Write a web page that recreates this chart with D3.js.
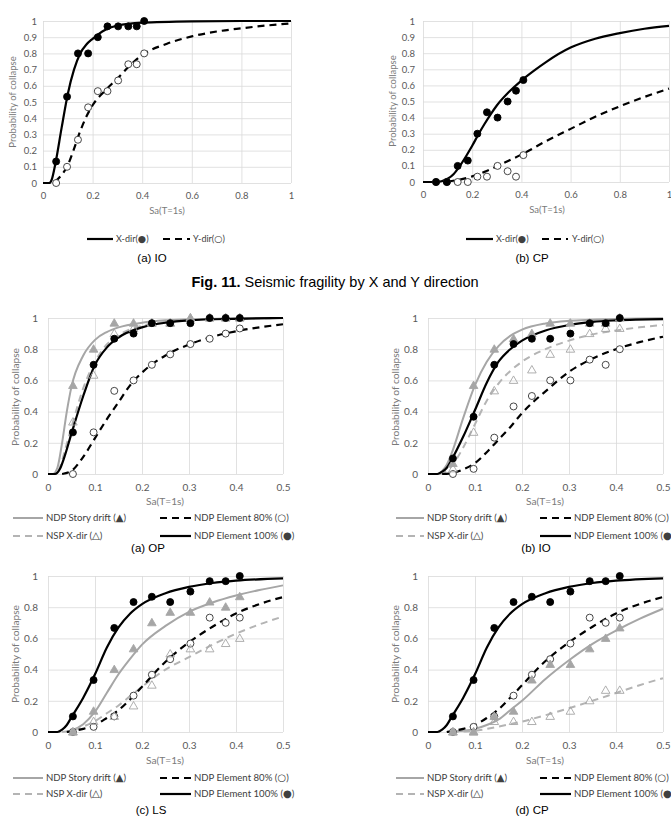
<!DOCTYPE html>
<html>
<head>
<meta charset="utf-8">
<style>
body { margin: 0; background: #fff; }
svg { display: block; }
.tick text { font-family: Lato, "Open Sans", sans-serif; fill: #595959; }
.axis-title { font-family: Lato, "Open Sans", sans-serif; fill: #7a7a7a; }
.legend text { font-family: Lato, "Open Sans", sans-serif; fill: #404040; }
.legend .glyph { font-family: "DejaVu Sans", sans-serif; fill: #404040; }
.caption { font-family: "Liberation Sans", Arial, sans-serif; fill: #000; }
</style>
</head>
<body>
<div id="fig"></div>

<script src="https://cdnjs.cloudflare.com/ajax/libs/d3/7.8.5/d3.min.js"></script>
<script>
// ---- data ----
const saPoints = [0.053, 0.097, 0.141, 0.182, 0.221, 0.26, 0.303, 0.344, 0.378, 0.408];

const topXTicks = [0, 0.2, 0.4, 0.6, 0.8, 1];
const topYTicks = [0, 0.1, 0.2, 0.3, 0.4, 0.5, 0.6, 0.7, 0.8, 0.9, 1];
const lowXTicks = [0, 0.1, 0.2, 0.3, 0.4, 0.5];
const lowYTicks = [0, 0.2, 0.4, 0.6, 0.8, 1];

// Fig. 11 (a) IO
const ioXdir = [0.133, 0.533, 0.8, 0.8, 0.9, 0.967, 0.967, 0.967, 0.967, 1];
const ioYdir = [0, 0.1, 0.267, 0.467, 0.567, 0.567, 0.633, 0.733, 0.733, 0.8];
const ioXdirCurve = [[0,0],[0.025,0],[0.035,0.02],[0.05,0.12],[0.075,0.34],[0.1,0.55],[0.125,0.7],[0.15,0.8],[0.175,0.855],[0.2,0.89],[0.25,0.945],[0.3,0.972],[0.4,0.99],[0.6,0.998],[0.8,1],[1,1]];
const ioYdirCurve = [[0.05,0.01],[0.075,0.05],[0.1,0.11],[0.125,0.21],[0.15,0.32],[0.175,0.41],[0.2,0.48],[0.25,0.57],[0.3,0.645],[0.35,0.725],[0.4,0.79],[0.5,0.86],[0.6,0.905],[0.7,0.935],[0.8,0.955],[0.9,0.972],[1,0.985]];

// Fig. 11 (b) CP
const cpXdir = [0, 0, 0.1, 0.133, 0.3, 0.433, 0.4, 0.5, 0.567, 0.633];
const cpYdir = [0, 0, 0, 0, 0.033, 0.033, 0.1, 0.067, 0.033, 0.167];
const cpXdirCurve = [[0,0],[0.05,0],[0.075,0.005],[0.1,0.02],[0.125,0.05],[0.15,0.1],[0.175,0.16],[0.2,0.225],[0.225,0.295],[0.25,0.36],[0.275,0.42],[0.3,0.475],[0.35,0.56],[0.4,0.63],[0.45,0.69],[0.5,0.745],[0.6,0.835],[0.7,0.89],[0.8,0.925],[0.9,0.952],[1,0.97]];
const cpYdirCurve = [[0.1,0.004],[0.15,0.015],[0.2,0.035],[0.25,0.063],[0.3,0.097],[0.35,0.134],[0.4,0.17],[0.5,0.254],[0.6,0.33],[0.7,0.405],[0.8,0.47],[0.9,0.528],[1,0.58]];

// Fig. 12 (a) OP
const opStory = [0.567, 0.8, 0.967, 0.967, 0.967, 0.967, 1, 1, 1, 1];
const opNsp = [0.333, 0.633, 0.9, 0.933, 0.967, 0.967, 1, 1, 1, 1];
const opEl80 = [0, 0.267, 0.533, 0.6, 0.7, 0.767, 0.833, 0.867, 0.9, 0.933];
const opEl100 = [0.267, 0.7, 0.867, 0.9, 0.967, 0.967, 0.967, 1, 1, 1];
const opStoryCurve = [[0,0],[0.01,0],[0.02,0.04],[0.03,0.2],[0.04,0.4],[0.05,0.56],[0.075,0.76],[0.1,0.86],[0.125,0.91],[0.15,0.94],[0.2,0.97],[0.25,0.985],[0.3,0.992],[0.4,0.998],[0.5,1]];
const opNspCurve = [[0,0],[0.015,0],[0.025,0.04],[0.035,0.14],[0.05,0.3],[0.075,0.55],[0.1,0.72],[0.125,0.83],[0.15,0.89],[0.2,0.95],[0.25,0.975],[0.3,0.988],[0.4,0.996],[0.5,1]];
const opEl80Curve = [[0.03,0],[0.05,0.02],[0.075,0.11],[0.1,0.23],[0.125,0.35],[0.15,0.46],[0.175,0.57],[0.2,0.65],[0.25,0.76],[0.3,0.83],[0.35,0.88],[0.4,0.915],[0.45,0.94],[0.5,0.96]];
const opEl100Curve = [[0,0],[0.015,0],[0.025,0.03],[0.035,0.11],[0.05,0.26],[0.075,0.5],[0.1,0.7],[0.125,0.81],[0.15,0.875],[0.2,0.94],[0.25,0.97],[0.3,0.985],[0.4,0.995],[0.5,1]];

// Fig. 12 (b) IO
const ioStory = [0.067, 0.567, 0.8, 0.867, 0.9, 0.967, 0.967, 0.967, 0.967, 1];
const ioNsp = [0.033, 0.267, 0.533, 0.6, 0.667, 0.767, 0.8, 0.9, 0.933, 0.933];
const ioEl80 = [0, 0.033, 0.233, 0.433, 0.5, 0.6, 0.6, 0.733, 0.7, 0.8];
const ioEl100 = [0.1, 0.367, 0.7, 0.833, 0.867, 0.867, 0.9, 0.967, 0.967, 1];
const ioStoryCurve = [[0,0],[0.02,0],[0.03,0.02],[0.04,0.06],[0.05,0.13],[0.075,0.36],[0.1,0.57],[0.125,0.72],[0.15,0.82],[0.175,0.885],[0.2,0.925],[0.25,0.965],[0.3,0.982],[0.4,0.994],[0.5,0.998]];
const ioNspCurve = [[0.025,0],[0.04,0.02],[0.05,0.05],[0.075,0.17],[0.1,0.32],[0.125,0.47],[0.15,0.58],[0.2,0.72],[0.25,0.8],[0.3,0.855],[0.35,0.895],[0.4,0.92],[0.45,0.94],[0.5,0.955]];
const ioEl80Curve = [[0.03,0],[0.05,0.005],[0.075,0.03],[0.1,0.07],[0.125,0.14],[0.15,0.22],[0.175,0.3],[0.2,0.39],[0.225,0.465],[0.25,0.53],[0.3,0.655],[0.35,0.74],[0.4,0.8],[0.45,0.845],[0.5,0.88]];
const ioEl100Curve = [[0,0],[0.02,0],[0.03,0.015],[0.04,0.04],[0.05,0.09],[0.075,0.24],[0.1,0.41],[0.125,0.585],[0.15,0.72],[0.175,0.8],[0.2,0.855],[0.25,0.92],[0.3,0.955],[0.35,0.975],[0.4,0.985],[0.5,0.993]];

// Fig. 12 (c) LS
const lsStory = [0, 0.133, 0.4, 0.533, 0.7, 0.767, 0.767, 0.833, 0.8, 0.867];
const lsNsp = [0, 0.067, 0.1, 0.167, 0.3, 0.5, 0.533, 0.533, 0.567, 0.6];
const lsEl80 = [0, 0.033, 0.1, 0.233, 0.367, 0.467, 0.567, 0.733, 0.7, 0.733];
const lsEl100 = [0.1, 0.333, 0.667, 0.833, 0.867, 0.833, 0.9, 0.967, 0.967, 1];
const lsStoryCurve = [[0.04,0],[0.05,0.01],[0.075,0.05],[0.1,0.13],[0.125,0.25],[0.15,0.37],[0.175,0.47],[0.2,0.56],[0.25,0.68],[0.3,0.77],[0.35,0.83],[0.4,0.875],[0.45,0.91],[0.5,0.94]];
const lsNspCurve = [[0.03,0],[0.05,0.01],[0.075,0.035],[0.1,0.07],[0.125,0.12],[0.15,0.17],[0.175,0.23],[0.2,0.29],[0.25,0.4],[0.3,0.48],[0.35,0.56],[0.4,0.63],[0.45,0.69],[0.5,0.74]];
const lsEl80Curve = [[0.04,0],[0.05,0.005],[0.075,0.02],[0.1,0.045],[0.125,0.09],[0.15,0.14],[0.175,0.21],[0.2,0.29],[0.25,0.45],[0.3,0.575],[0.35,0.675],[0.4,0.76],[0.45,0.82],[0.5,0.865]];
const lsEl100Curve = [[0,0],[0.02,0],[0.03,0.015],[0.04,0.045],[0.05,0.095],[0.075,0.22],[0.1,0.37],[0.125,0.54],[0.15,0.67],[0.175,0.76],[0.2,0.82],[0.25,0.89],[0.3,0.93],[0.35,0.955],[0.4,0.97],[0.5,0.985]];

// Fig. 12 (d) CP
const cpStory = [0, 0, 0.1, 0.133, 0.333, 0.433, 0.433, 0.533, 0.6, 0.667];
const cpNsp = [0, 0, 0.067, 0.067, 0.067, 0.1, 0.133, 0.2, 0.267, 0.267];
const cpEl80 = [0, 0.033, 0.1, 0.233, 0.367, 0.467, 0.567, 0.733, 0.7, 0.733];
const cpEl100 = [0.1, 0.333, 0.667, 0.833, 0.867, 0.833, 0.9, 0.967, 0.967, 1];
const cpStoryCurve = [[0.04,0],[0.05,0.003],[0.075,0.008],[0.1,0.02],[0.125,0.045],[0.15,0.08],[0.175,0.14],[0.2,0.2],[0.25,0.34],[0.3,0.46],[0.35,0.565],[0.4,0.65],[0.45,0.725],[0.5,0.79]];
const cpNspCurve = [[0.05,0],[0.075,0.003],[0.1,0.008],[0.125,0.02],[0.15,0.035],[0.175,0.05],[0.2,0.067],[0.25,0.108],[0.3,0.152],[0.35,0.2],[0.4,0.25],[0.45,0.3],[0.5,0.345]];
const cpEl80Curve = [[0.04,0],[0.05,0.005],[0.075,0.02],[0.1,0.045],[0.125,0.09],[0.15,0.145],[0.175,0.22],[0.2,0.3],[0.25,0.455],[0.3,0.575],[0.35,0.675],[0.4,0.76],[0.45,0.82],[0.5,0.865]];
const cpEl100Curve = [[0,0],[0.02,0],[0.03,0.015],[0.04,0.045],[0.05,0.095],[0.075,0.22],[0.1,0.37],[0.125,0.54],[0.15,0.67],[0.175,0.76],[0.2,0.82],[0.25,0.89],[0.3,0.93],[0.35,0.955],[0.4,0.97],[0.5,0.985]];

const lowLabels = ["NDP Story drift (\u25B2)", "NSP X-dir (\u25B3)", "NDP Element 80% (\u25CB)", "NDP Element 100% (\u25CF)"];
const topLabels = ["X-dir(\u25CF)", "Y-dir(\u25CB)"];

// ---- styles ----
const GRAY = "#a6a6a6";
const lineStyle = {
    story: { stroke: GRAY, dash: null, width: 2 },
    nsp:   { stroke: "#b4b4b4", dash: "7,5", width: 2 },
    el80:  { stroke: "#000", dash: "7,5", width: 2.2 },
    el100: { stroke: "#000", dash: null, width: 2.2 }
};
const markerStyle = {
    story: { shape: "tri", fill: GRAY, stroke: GRAY },
    nsp:   { shape: "tri", fill: "none", stroke: GRAY },
    el80:  { shape: "circle", fill: "#fff", stroke: "#333" },
    el100: { shape: "circle", fill: "#000", stroke: "#000" }
};

const svg = d3.select("#fig").append("svg")
    .attr("width", 671)
    .attr("height", 821);

const line = d3.line().curve(d3.curveMonotoneX);

function drawPanel(p) {
    const x = d3.scaleLinear().domain([0, p.xMax]).range([p.left, p.right]);
    const y = d3.scaleLinear().domain([0, 1]).range([p.bottom, p.top]);
    const g = svg.append("g");

    const xa = g.append("g")
        .attr("transform", "translate(0," + p.bottom + ")")
        .call(d3.axisBottom(x).tickValues(p.xTicks).tickSize(-(p.bottom - p.top))
              .tickPadding(p.xPad).tickFormat(d3.format("~g")));
    const ya = g.append("g")
        .attr("transform", "translate(" + p.left + ",0)")
        .call(d3.axisLeft(y).tickValues(p.yTicks).tickSize(-(p.right - p.left))
              .tickPadding(p.yPad).tickFormat(d3.format("~g")));
    [xa, ya].forEach(function(a) {
        a.select(".domain").remove();
        a.selectAll(".tick line").attr("stroke", "#d9d9d9").attr("stroke-width", 0.8);
        a.selectAll(".tick text").style("font-size", p.tickFont + "px");
    });

    // axis titles
    g.append("text").attr("class", "axis-title")
        .attr("x", p.xTitle[0]).attr("y", p.xTitle[1])
        .attr("text-anchor", "middle").style("font-size", p.titleFont + "px")
        .text("Sa(T=1s)");
    g.append("text").attr("class", "axis-title")
        .attr("transform", "translate(" + p.yTitle[0] + "," + p.yTitle[1] + ") rotate(-90)")
        .attr("text-anchor", "middle").attr("dy", "0.35em").style("font-size", p.titleFont + "px")
        .text("Probability of collapse");

    // curves
    p.series.forEach(function(s) {
        const st = lineStyle[s.kind];
        g.append("path")
            .datum(s.curve)
            .attr("d", line.x(function(d) { return x(d[0]); }).y(function(d) { return y(d[1]); }))
            .attr("fill", "none")
            .attr("stroke", st.stroke)
            .attr("stroke-width", st.width)
            .attr("stroke-dasharray", st.dash);
    });

    // markers
    const tri = d3.symbol().type(d3.symbolTriangle).size(32);
    p.markerOrder.forEach(function(i) {
        const s = p.series[i];
        const ms = markerStyle[s.kind];
        const pts = saPoints.map(function(v, k) { return [v, s.values[k]]; });
        if (ms.shape === "circle") {
            g.selectAll(null).data(pts).enter().append("circle")
                .attr("cx", function(d) { return x(d[0]); })
                .attr("cy", function(d) { return y(d[1]); })
                .attr("r", 3.5)
                .attr("fill", ms.fill)
                .attr("stroke", ms.stroke)
                .attr("stroke-width", 0.9);
        } else {
            g.selectAll(null).data(pts).enter().append("path")
                .attr("d", tri)
                .attr("transform", function(d) { return "translate(" + x(d[0]) + "," + (y(d[1]) + 0.5) + ")"; })
                .attr("fill", ms.fill)
                .attr("stroke", ms.stroke)
                .attr("stroke-width", 0.9);
        }
    });

    // legend
    const lg = g.append("g").attr("class", "legend");
    p.legend.forEach(function(it) {
        const st = lineStyle[it.kind];
        lg.append("line")
            .attr("x1", it.x1).attr("x2", it.x2).attr("y1", it.y).attr("y2", it.y)
            .attr("stroke", st.stroke).attr("stroke-width", st.width)
            .attr("stroke-dasharray", st.dash);
        const t = lg.append("text")
            .attr("x", it.tx).attr("y", it.y).attr("dy", "0.35em")
            .style("font-size", p.legendFont + "px");
        const n = it.label.length;
        t.append("tspan").text(it.label.slice(0, n - 2));
        t.append("tspan").attr("class", "glyph").style("font-size", (p.legendFont + 0.5) + "px")
            .text(it.label.slice(n - 2, n - 1));
        t.append("tspan").text(")");
    });

    // caption
    svg.append("text").attr("class", "caption")
        .attr("x", p.caption[0]).attr("y", p.caption[1])
        .attr("text-anchor", "middle").style("font-size", "11.5px")
        .text(p.caption[2]);
}

function topLegend(a, b, t1, c, d, t2, yy) {
    return [
        { kind: "el100", x1: a, x2: b, tx: t1, y: yy, label: topLabels[0] },
        { kind: "el80",  x1: c, x2: d, tx: t2, y: yy, label: topLabels[1] }
    ];
}
function lowLegend(c1a, c1b, c1t, c2a, c2b, c2t, r1, r2) {
    return [
        { kind: "story", x1: c1a, x2: c1b, tx: c1t, y: r1, label: lowLabels[0] },
        { kind: "el80",  x1: c2a, x2: c2b, tx: c2t, y: r1, label: lowLabels[2] },
        { kind: "nsp",   x1: c1a, x2: c1b, tx: c1t, y: r2, label: lowLabels[1] },
        { kind: "el100", x1: c2a, x2: c2b, tx: c2t, y: r2, label: lowLabels[3] }
    ];
}
function lowSeries(story, storyC, nsp, nspC, el80, el80C, el100, el100C) {
    return [
        { kind: "story", values: story, curve: storyC },
        { kind: "nsp",   values: nsp,   curve: nspC },
        { kind: "el80",  values: el80,  curve: el80C },
        { kind: "el100", values: el100, curve: el100C }
    ];
}

const topCommon = { xMax: 1, xTicks: topXTicks, yTicks: topYTicks, xPad: 9, tickFont: 9.5, titleFont: 9.5, legendFont: 9 };
const lowCommon = { xMax: 0.5, xTicks: lowXTicks, yTicks: lowYTicks, xPad: 10, yPad: 10, tickFont: 10, titleFont: 10.2, legendFont: 9.6, markerOrder: [2, 1, 0, 3] };

const panels = [
    Object.assign({}, topCommon, {
        left: 43, right: 291, top: 21, bottom: 183, yPad: 6,
        xTitle: [167, 214], yTitle: [13, 102],
        series: [{ kind: "el100", values: ioXdir, curve: ioXdirCurve }, { kind: "el80", values: ioYdir, curve: ioYdirCurve }],
        markerOrder: [1, 0],
        legend: topLegend(87, 113, 116, 163, 190, 193, 239),
        caption: [152, 262, "(a) IO"]
    }),
    Object.assign({}, topCommon, {
        left: 423, right: 669, top: 21, bottom: 182, yPad: 8,
        xTitle: [547, 213], yTitle: [393, 101],
        series: [{ kind: "el100", values: cpXdir, curve: cpXdirCurve }, { kind: "el80", values: cpYdir, curve: cpYdirCurve }],
        markerOrder: [1, 0],
        legend: topLegend(466, 493, 496, 542, 568, 572, 239),
        caption: [532, 262, "(b) CP"]
    }),
    Object.assign({}, lowCommon, {
        left: 48, right: 283, top: 318, bottom: 474,
        xTitle: [165, 505], yTitle: [15, 397],
        series: lowSeries(opStory, opStoryCurve, opNsp, opNspCurve, opEl80, opEl80Curve, opEl100, opEl100Curve),
        legend: lowLegend(13, 43, 46, 160, 191, 194, 518, 536),
        caption: [148, 552, "(a) OP"]
    }),
    Object.assign({}, lowCommon, {
        left: 428, right: 663, top: 318, bottom: 474,
        xTitle: [545, 505], yTitle: [395, 397],
        series: lowSeries(ioStory, ioStoryCurve, ioNsp, ioNspCurve, ioEl80, ioEl80Curve, ioEl100, ioEl100Curve),
        legend: lowLegend(396, 424, 427, 540, 571, 574, 518, 536),
        caption: [536, 552, "(b) IO"]
    }),
    Object.assign({}, lowCommon, {
        left: 48, right: 283, top: 576, bottom: 732,
        xTitle: [165, 764], yTitle: [15, 654],
        series: lowSeries(lsStory, lsStoryCurve, lsNsp, lsNspCurve, lsEl80, lsEl80Curve, lsEl100, lsEl100Curve),
        legend: lowLegend(13, 43, 46, 160, 191, 194, 778, 794),
        caption: [151, 814, "(c) LS"]
    }),
    Object.assign({}, lowCommon, {
        left: 428, right: 663, top: 576, bottom: 732,
        xTitle: [545, 764], yTitle: [395, 654],
        series: lowSeries(cpStory, cpStoryCurve, cpNsp, cpNspCurve, cpEl80, cpEl80Curve, cpEl100, cpEl100Curve),
        legend: lowLegend(396, 424, 427, 540, 571, 574, 778, 794),
        caption: [532, 814, "(d) CP"]
    })
];

panels.forEach(drawPanel);

// figure title between the two figures
const title = svg.append("text").attr("class", "caption")
    .attr("x", 335).attr("y", 287)
    .attr("text-anchor", "middle").style("font-size", "14.5px");
title.append("tspan").attr("font-weight", "bold").text("Fig. 11.");
title.append("tspan").text(" Seismic fragility by X and Y direction");
</script>
</body>
</html>
